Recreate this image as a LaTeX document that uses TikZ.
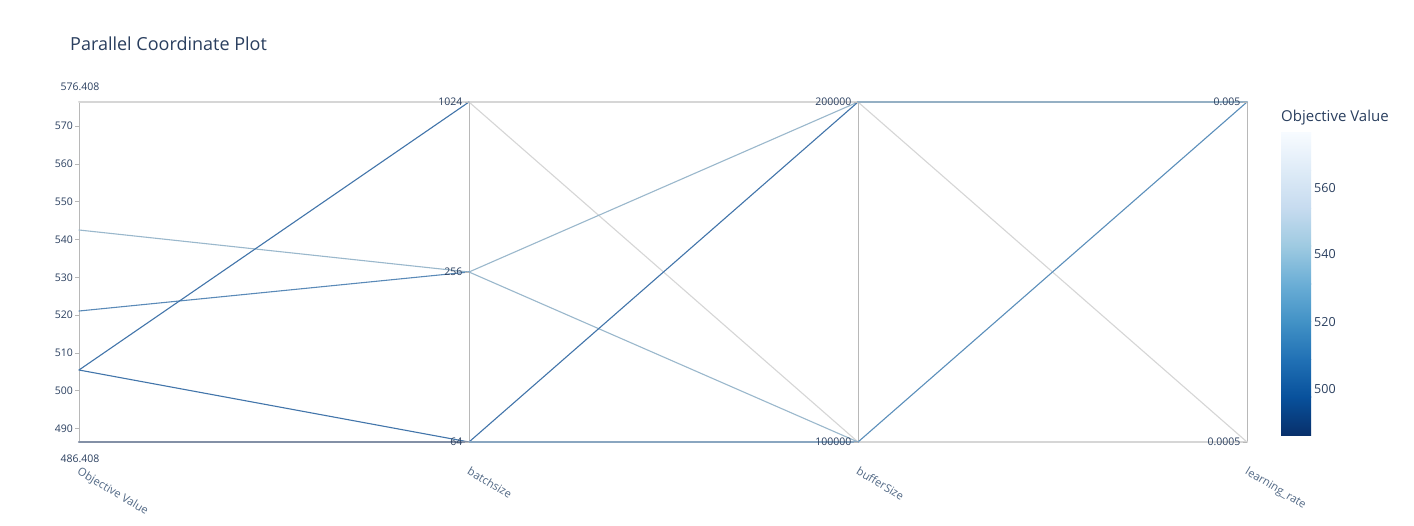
\documentclass[tikz,border=0pt]{standalone}
\usepackage{fontspec}
\setmainfont{Open Sans}
\definecolor{txt}{HTML}{2A3F5F}
\definecolor{axt}{HTML}{506784}
\definecolor{axl}{HTML}{B8B8B8}
\definecolor{lgray}{HTML}{D6D6D6}
\definecolor{lblue}{HTML}{9AB8CC}
\definecolor{mblue}{HTML}{5A8AB8}
\definecolor{dblue}{HTML}{4275AA}
\definecolor{bblue}{HTML}{5B8FBB}
\definecolor{botA}{HTML}{8390A6}
\definecolor{botB}{HTML}{8AA6C0}
\definecolor{topC}{HTML}{95B0C4}
\definecolor{c0}{RGB}{8,48,107}
\definecolor{c1}{RGB}{8,81,156}
\definecolor{c2}{RGB}{33,113,181}
\definecolor{c3}{RGB}{66,146,198}
\definecolor{c4}{RGB}{107,174,214}
\definecolor{c5}{RGB}{158,202,225}
\definecolor{c6}{RGB}{198,219,239}
\definecolor{c7}{RGB}{222,235,247}
\definecolor{c8}{RGB}{247,251,255}
\tikzset{
  axisline/.style={draw=axl, line width=1pt},
  tickmark/.style={draw=axl, line width=0.8pt},
  ticklab/.style={text=txt, font=\fontsize{10.5}{12}\selectfont, inner sep=0pt},
  axtitle/.style={text=axt, font=\fontsize{11.2}{12}\selectfont, inner sep=0pt, anchor=north west, rotate=-31},
  trial/.style={line width=1.1pt, line cap=round},
  cbtick/.style={text=txt, font=\fontsize{12.5}{14}\selectfont, inner sep=0pt, anchor=west},
}
\begin{document}
\begin{tikzpicture}[x=1pt,y=-1pt]
\useasboundingbox[fill=white] (0,0) rectangle (1414,525);
% title
\node[anchor=base west, inner sep=0pt, text=txt, font=\fontsize{18}{21}\selectfont] (title) at (70,50) {Parallel Coordinate Plot};
% axis coordinates
\coordinate (oT) at (79,102); \coordinate (oB) at (79,442);
\coordinate (o543) at (79,230); \coordinate (o521) at (79,311); \coordinate (o506) at (79,370);
\coordinate (b1024) at (469,102); \coordinate (b256) at (469,272); \coordinate (b64) at (469,442);
\coordinate (f2) at (858,102); \coordinate (f1) at (858,442);
\coordinate (lH) at (1247,102); \coordinate (lL) at (1247,442);
% axes
\draw[axisline] (oT) -- (oB);
\draw[axisline] (b1024) -- (b64);
\draw[axisline] (f2) -- (f1);
\draw[axisline] (lH) -- (lL);
% trials: gray
\draw[trial, lgray, line width=2pt] (oT) -- (b1024);
\draw[trial, lgray, line width=2pt] (b1024) -- (f2);
\draw[trial, lgray] (b1024) -- (f1);
\draw[trial, lgray] (f2) -- (lL);
\draw[trial, lgray, line width=2pt] (f1) -- (lL);
% light blue
\draw[trial, lblue] (o543) -- (b256);
\draw[trial, lblue] (b256) -- (f2);
\draw[trial, lblue] (b256) -- (f1);
% medium blue
\draw[trial, mblue] (o521) -- (b256);
% dark blue
\draw[trial, dblue] (o506) -- (b1024);
\draw[trial, dblue] (o506) -- (b64);
\draw[trial, dblue] (b64) -- (f2);
\draw[trial, bblue] (f1) -- (lH);
% bottom / top thick
\draw[trial, botA, line width=2.2pt] (oB) -- (b64);
\draw[trial, botB, line width=2.2pt] (b64) -- (f1);
\draw[trial, topC, line width=2.4pt] (f2) -- (lH);
% objective axis ticks
\foreach \v/\y in {490/428.4,500/390.6,510/352.9,520/315.1,530/277.3,540/239.6,550/201.8,560/164.0,570/126.2} {
  \draw[tickmark] (75,\y) -- (79,\y);
  \node[ticklab, anchor=east] (ot\v) at (73,\y) {\v};
}
\node[ticklab] (omax) at (80,87) {576.408};
\node[ticklab] (omin) at (80,459) {486.408};
% categorical ticks
\foreach \x/\y/\t/\n in {469/102/1024/a,469/272/256/b,469/442/64/c,858/102/200000/d,858/442/100000/e,1247/102/0.005/f,1247/442/0.0005/g} {
  \draw[tickmark] (\x-4,\y) -- (\x,\y);
  \node[ticklab, anchor=east] (ct\n) at (\x-6.5,\y) {\t};
}
% axis titles
\node[axtitle] (at1) at (81,466) {Objective Value};
\node[axtitle] (at2) at (471,466) {batchsize};
\node[axtitle] (at3) at (860,466) {bufferSize};
\node[axtitle] (at4) at (1249,466) {learning\_rate};
% colorbar
\foreach \i/\j [count=\k from 0] in {c0/c1,c1/c2,c2/c3,c3/c4,c4/c5,c5/c6,c6/c7,c7/c8} {
  \shade[bottom color=\i, top color=\j] (1281,{435-\k*37.75}) rectangle (1311,{435-(\k+1)*37.75-0.3});
}
\node[anchor=west, inner sep=0pt, text=txt, font=\fontsize{15}{17}\selectfont] (cbt) at (1281,118) {Objective Value};
\node[cbtick] (cb500) at (1314,389) {500};
\node[cbtick] (cb520) at (1314,322) {520};
\node[cbtick] (cb540) at (1314,254) {540};
\node[cbtick] (cb560) at (1314,188) {560};
\end{tikzpicture}
\end{document}
